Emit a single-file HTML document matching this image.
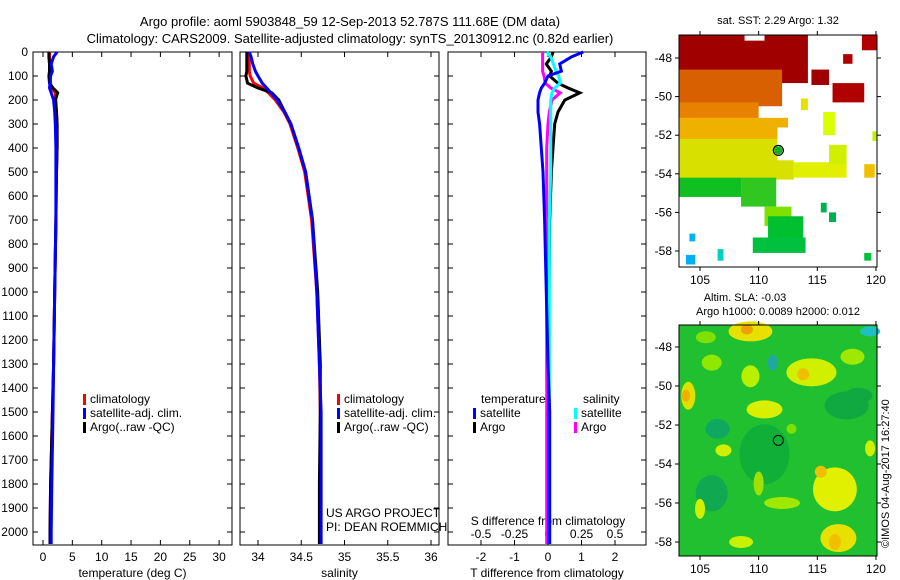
<!DOCTYPE html>
<html><head><meta charset="utf-8">
<style>
html,body{margin:0;padding:0;background:#fff;}
svg{display:block;font-family:"Liberation Sans",sans-serif;}
text{fill:#000;}
</style></head>
<body>
<svg id="fig" width="900" height="580" viewBox="0 0 900 580" xmlns="http://www.w3.org/2000/svg">
<g>
<text x="350" y="26" font-size="13" text-anchor="middle">Argo profile: aoml 5903848_59 12-Sep-2013 52.787S 111.68E (DM data)</text>
<text x="350" y="43" font-size="13" text-anchor="middle">Climatology: CARS2009. Satellite-adjusted climatology: synTS_20130912.nc (0.82d earlier)</text>
</g>
<g id="p1"></g>
<g id="p2"></g>
<g id="p3"></g>
<g id="m1"></g>
<g id="m2"></g>
<text x="778" y="24" font-size="11" text-anchor="middle">sat. SST: 2.29 Argo: 1.32</text>
<text x="745" y="301" font-size="11" text-anchor="middle">Altim. SLA: -0.03</text>
<text x="778" y="315" font-size="11" text-anchor="middle">Argo h1000: 0.0089 h2000: 0.012</text>
<text transform="translate(889,548) rotate(-90)" font-size="11">©IMOS 04-Aug-2017 16:27:40</text>
</svg>
<script>
// ---- data ----
const depthTicks = [0,100,200,300,400,500,600,700,800,900,1000,1100,1200,1300,1400,1500,1600,1700,1800,1900,2000];
const tempTicks = [0,5,10,15,20,25,30];
const salTicks = [34,34.5,35,35.5,36];
const tdiffTicks = [-2,-1,0,1,2];
const sdiffTicks = [-0.5,-0.25,0,0.25,0.5];

const depths = [0,20,50,80,100,130,150,170,200,250,300,400,500,700,1000,1300,1500,1800,2000,2050];
const tempClim = [1.1,1.1,1.2,1.2,1.2,1.3,1.5,2.1,2.2,2.3,2.4,2.4,2.3,2.2,2.0,1.8,1.6,1.3,1.2,1.2];
const tempSat  = [2.4,1.8,1.4,1.6,1.3,1.2,1.1,1.4,1.8,2.0,2.1,2.2,2.2,2.2,2.0,1.8,1.7,1.5,1.4,1.4];
const tempArgo = [1.0,1.0,1.1,1.1,1.0,1.1,1.7,2.5,2.1,2.3,2.4,2.4,2.3,2.2,2.0,1.8,1.6,1.3,1.2,1.2];

const salClim = [33.89,33.9,33.9,33.9,33.91,33.95,34.06,34.12,34.2,34.3,34.37,34.46,34.54,34.62,34.68,34.71,34.72,34.72,34.72,34.72];
const salSat  = [33.9,33.92,33.94,33.97,34.0,34.05,34.1,34.15,34.22,34.31,34.38,34.47,34.55,34.63,34.68,34.71,34.73,34.73,34.73,34.73];
const salArgo = [33.87,33.87,33.87,33.87,33.86,33.88,34.0,34.16,34.24,34.31,34.38,34.47,34.55,34.63,34.69,34.72,34.72,34.71,34.71,34.71];

const tDiffSat  = [1.05,0.7,0.35,0.4,0.0,-0.1,-0.2,-0.25,-0.3,-0.3,-0.25,-0.2,-0.15,-0.1,-0.05,0.0,0.05,0.05,0.05,0.05];
const tDiffArgo = [0.15,0.1,-0.05,0.1,0.05,0.3,0.6,0.95,0.5,0.3,0.2,0.15,0.1,0.05,0.03,0.02,0.02,0.02,0.02,0.02];
const sDiffSat  = [-0.01,0.02,0.04,0.06,0.08,0.09,0.05,0.03,0.02,0.02,0.02,0.02,0.02,0.01,0.01,0.01,0.01,0.01,0.01,0.01];
const sDiffArgo = [-0.04,-0.04,-0.04,-0.04,-0.03,-0.02,0.02,0.09,0.03,0.01,0.0,-0.01,-0.01,-0.01,-0.01,-0.01,-0.01,-0.01,-0.01,-0.01];

const lonTicks = [105,110,115,120];
const latTicks = [-48,-50,-52,-54,-56,-58];
const argoLon = 111.68, argoLat = -52.787;

// ---- helpers ----
const NS = "http://www.w3.org/2000/svg";
function mk(parent, tag, attrs, txt){
  const e = document.createElementNS(NS, tag);
  for (const k in attrs) e.setAttribute(k, attrs[k]);
  if (txt !== undefined) e.textContent = txt;
  parent.appendChild(e); return e;
}
const Y0 = 52, YS = 0.24;
const yD = d => Y0 + d*YS;

function panel(g, x0, x1, xfun, xticks, xlabel, leftLabels){
  const fr = mk(g,'rect',{x:x0,y:52,width:x1-x0,height:493,fill:'none',stroke:'#000','stroke-width':1});
  
  
  depthTicks.forEach(d=>{
    const y = yD(d);
    mk(g,'line',{x1:x0,x2:x0+5,y1:y,y2:y,stroke:'#000'});
    mk(g,'line',{x1:x1-5,x2:x1,y1:y,y2:y,stroke:'#000'});
    if (leftLabels){
      const t = mk(g,'text',{x:x0-5,y:y+4,'font-size':12,'text-anchor':'end'},String(d));
      
      
    }
  });
  if (xticks) xticks.forEach(v=>{
    const x = xfun(v);
    mk(g,'line',{x1:x,x2:x,y1:545,y2:540,stroke:'#000'});
    mk(g,'line',{x1:x,x2:x,y1:52,y2:57,stroke:'#000'});
    const t = mk(g,'text',{x:x,y:561,'font-size':12,'text-anchor':'middle'},String(v));
    
    
  });
  if (xlabel){
    const t = mk(g,'text',{x:(x0+x1)/2,y:577,'font-size':12,'text-anchor':'middle'},xlabel);
    
    
  }
}
function line(g, vals, xfun, color, w, name){
  const pts = vals.map((v,i)=>xfun(v).toFixed(1)+','+yD(depths[i]).toFixed(1)).join(' ');
  const p = mk(g,'polyline',{points:pts,fill:'none',stroke:color,'stroke-width':w,'stroke-linejoin':'miter'});
  
  
}
function legend(g, x, y, items){
  items.forEach((it,i)=>{
    mk(g,'rect',{x:x,y:y+i*14-9,width:3,height:11,fill:it[0]});
    const t = mk(g,'text',{x:x+7,y:y+i*14,'font-size':12},it[1]);
    
    
  });
}

// ---- panel 1 ----
const p1 = document.getElementById('p1');
const xT = v => 43 + v*5.87;
panel(p1, 33, 232, xT, tempTicks, 'temperature (deg C)', true);
line(p1, tempClim, xT, '#f00', 3, 'temp-climatology-line');
line(p1, tempArgo, xT, '#000', 3, 'temp-argo-line');
line(p1, tempSat, xT, '#00f', 3, 'temp-satellite-line');
legend(p1, 83, 403, [['#f00','climatology'],['#00f','satellite-adj. clim.'],['#000','Argo(..raw -QC)']]);

// ---- panel 2 ----
const p2 = document.getElementById('p2');
const xS = v => 258 + (v-34)*86.5;
panel(p2, 240, 439, xS, salTicks, 'salinity', false);
line(p2, salClim, xS, '#f00', 3, 'sal-climatology-line');
line(p2, salArgo, xS, '#000', 3, 'sal-argo-line');
line(p2, salSat, xS, '#00f', 3, 'sal-satellite-line');
legend(p2, 337, 403, [['#f00','climatology'],['#00f','satellite-adj. clim.'],['#000','Argo(..raw -QC)']]);
mk(p2,'text',{x:326,y:517,'font-size':12},'US ARGO PROJECT');
mk(p2,'text',{x:326,y:531,'font-size':12},'PI: DEAN ROEMMICH');

// ---- panel 3 ----
const p3 = document.getElementById('p3');
const xTD = v => 548 + v*33.5;
const xSD = v => 548 + v*134;
panel(p3, 448, 646, xTD, tdiffTicks, 'T difference from climatology', false);
sdiffTicks.forEach(v=>{
  const t = mk(p3,'text',{x:xSD(v),y:538,'font-size':12,'text-anchor':'middle'},String(v));
  
  
});
mk(p3,'text',{x:548,y:525,'font-size':12,'text-anchor':'middle'},'S difference from climatology');
line(p3, sDiffArgo, xSD, '#f0f', 3, 'sdiff-argo-line');
line(p3, tDiffArgo, xTD, '#000', 3, 'tdiff-argo-line');
line(p3, sDiffSat, xSD, '#0ff', 3, 'sdiff-satellite-line');
line(p3, tDiffSat, xTD, '#00f', 3, 'tdiff-satellite-line');
mk(p3,'text',{x:481,y:403,'font-size':12},'temperature');
mk(p3,'text',{x:583,y:403,'font-size':12},'salinity');
legend(p3, 473, 417, [['#00f','satellite'],['#000','Argo']]);
legend(p3, 574, 417, [['#0ff','satellite'],['#f0f','Argo']]);

// ---- maps ----
function frameMap(g, top, bot, mx, my){
  mk(g,'rect',{x:679,y:top,width:198,height:bot-top,fill:'none',stroke:'#000'});
  lonTicks.forEach(v=>{
    const x = mx(v);
    mk(g,'line',{x1:x,x2:x,y1:bot,y2:bot+4,stroke:'#000'});
    mk(g,'line',{x1:x,x2:x,y1:top,y2:top-4,stroke:'#000'});
    const t = mk(g,'text',{x:x,y:bot+17,'font-size':12,'text-anchor':'middle'},String(v));
    
    
  });
  latTicks.forEach(v=>{
    const y = my(v);
    mk(g,'line',{x1:675,x2:679,y1:y,y2:y,stroke:'#000'});
    mk(g,'line',{x1:877,x2:881,y1:y,y2:y,stroke:'#000'});
    const t = mk(g,'text',{x:672,y:y+4,'font-size':12,'text-anchor':'end'},String(v));
    
    
  });
  const c = mk(g,'circle',{cx:mx(argoLon),cy:my(argoLat),r:5,fill:'none',stroke:'#000'});
  
  
}
// map 1 (SST)
const m1 = document.getElementById('m1');
{
  const top=35, bot=267;
  const mx = lon => 700 + (lon-105)*11.73;
  const my = lat => 58 + (-48 - lat)*19.3;
  const R = (a,b,c,d,f)=>mk(m1,'rect',{x:mx(a),y:my(b),width:mx(c)-mx(a),height:my(d)-my(b),fill:f});
  R(103.2,-46.8,114.2,-49.3,'#a00000');
  R(103.2,-48.6,112,-50.5,'#d86000');
  R(103.2,-50.3,110,-51.2,'#e88000');
  R(103.2,-51.1,112.5,-52.2,'#f0b000');
  R(103.2,-52.2,113,-54.3,'#d8e000');
  R(113,-53.4,117.5,-54.2,'#e0f000');
  R(103.2,-54.2,108.5,-55.2,'#10c020');
  R(108.5,-54.2,111.5,-55.7,'#30c820');
  R(110.5,-55.7,112.8,-56.7,'#80e000');
  R(110.8,-56.2,113.8,-57.5,'#00c030');
  R(109.5,-57.3,114,-58.1,'#00c040');
  R(116,-52.5,117.5,-53.5,'#d0f000');
  R(115.5,-50.8,116.5,-52,'#d8ff00');
  R(116.3,-49.3,119,-50.3,'#b00000');
  R(117.2,-47.8,118,-48.3,'#b00000');
  R(118.8,-46.8,120.1,-47.6,'#b00000');
  R(114.5,-48.6,116,-49.4,'#a00000');
  R(119,-53.5,119.9,-54.2,'#f0c000');
  R(113.6,-50.1,114.2,-50.7,'#e8e000');
  R(115.3,-55.5,115.8,-56,'#00b050');
  R(116,-56,116.6,-56.5,'#00b050');
  R(119,-58.1,119.6,-58.5,'#00c040');
  R(104.1,-57.1,104.6,-57.5,'#00b0f0');
  R(103.8,-58.2,104.6,-58.7,'#00b0f0');
  R(106.5,-57.9,107,-58.5,'#00d0c0');
  R(119.7,-51.8,120.1,-52.3,'#c0f000');
  R(111.6,-51.6,114,-53.3,'#fff');
  R(108.8,-46.8,110.5,-47.1,'#fff');
  frameMap(m1, top, bot, mx, my);
  mk(m1,'circle',{cx:mx(argoLon),cy:my(argoLat),r:4,fill:'#10b020'});
  mk(m1,'circle',{cx:mx(argoLon),cy:my(argoLat),r:5,fill:'none',stroke:'#000'});
}
// map 2 (SLA)
const m2 = document.getElementById('m2');
{
  const top=325, bot=556;
  const mx = lon => 700 + (lon-105)*11.73;
  const my = lat => 347 + (-48 - lat)*19.5;
  mk(m2,'rect',{x:679,y:top,width:198,height:bot-top,fill:'#20c030'});
  const E = (lon,lat,rx,ry,f)=>mk(m2,'ellipse',{cx:mx(lon),cy:my(lat),rx:rx,ry:ry,fill:f});
  E(110.5,-53.5,25,30,'#10b038');E(117.5,-51,22,14,'#10a840');E(106,-55.5,16,18,'#10a850');
  E(109.3,-47.2,22,10,'#e8e000');E(109,-47.1,6,5,'#f0a000');
  E(114.5,-49.3,25,14,'#d0f000');E(113.8,-49.4,6,6,'#f0c000');
  E(104,-50.5,7,14,'#e0e000');E(103.8,-50.5,4,6,'#f0b000');
  E(110.5,-51.2,18,9,'#d8f000');E(109.3,-49.5,9,11,'#b8f000');
  E(106,-48.8,10,8,'#90e800');E(107,-53.3,8,6,'#d0f000');
  E(105.5,-47.5,10,6,'#80e000');E(118,-48.5,12,8,'#a0e800');
  E(116.5,-55.3,22,22,'#e0f000');E(115.3,-54.4,6,6,'#f0c000');
  E(116.8,-57.8,18,14,'#e8e000');E(116.5,-58,6,8,'#f0c000');
  E(105,-56.3,5,10,'#d0f000');E(119.5,-53.2,5,8,'#d0f000');
  E(118.5,-50.5,14,8,'#10a840');E(106.5,-52.2,12,10,'#10a860');
  E(119.5,-47.2,10,5,'#20c0c0');E(111.2,-48.8,5,8,'#20a8a0');
  E(112,-56,18,6,'#a0e800');E(108.5,-58,12,6,'#c8f000');
  E(110,-55,5,12,'#a0e000');E(112.8,-52.2,5,5,'#80e000');
  frameMap(m2, top, bot, mx, my);
}
</script>
</body></html>
